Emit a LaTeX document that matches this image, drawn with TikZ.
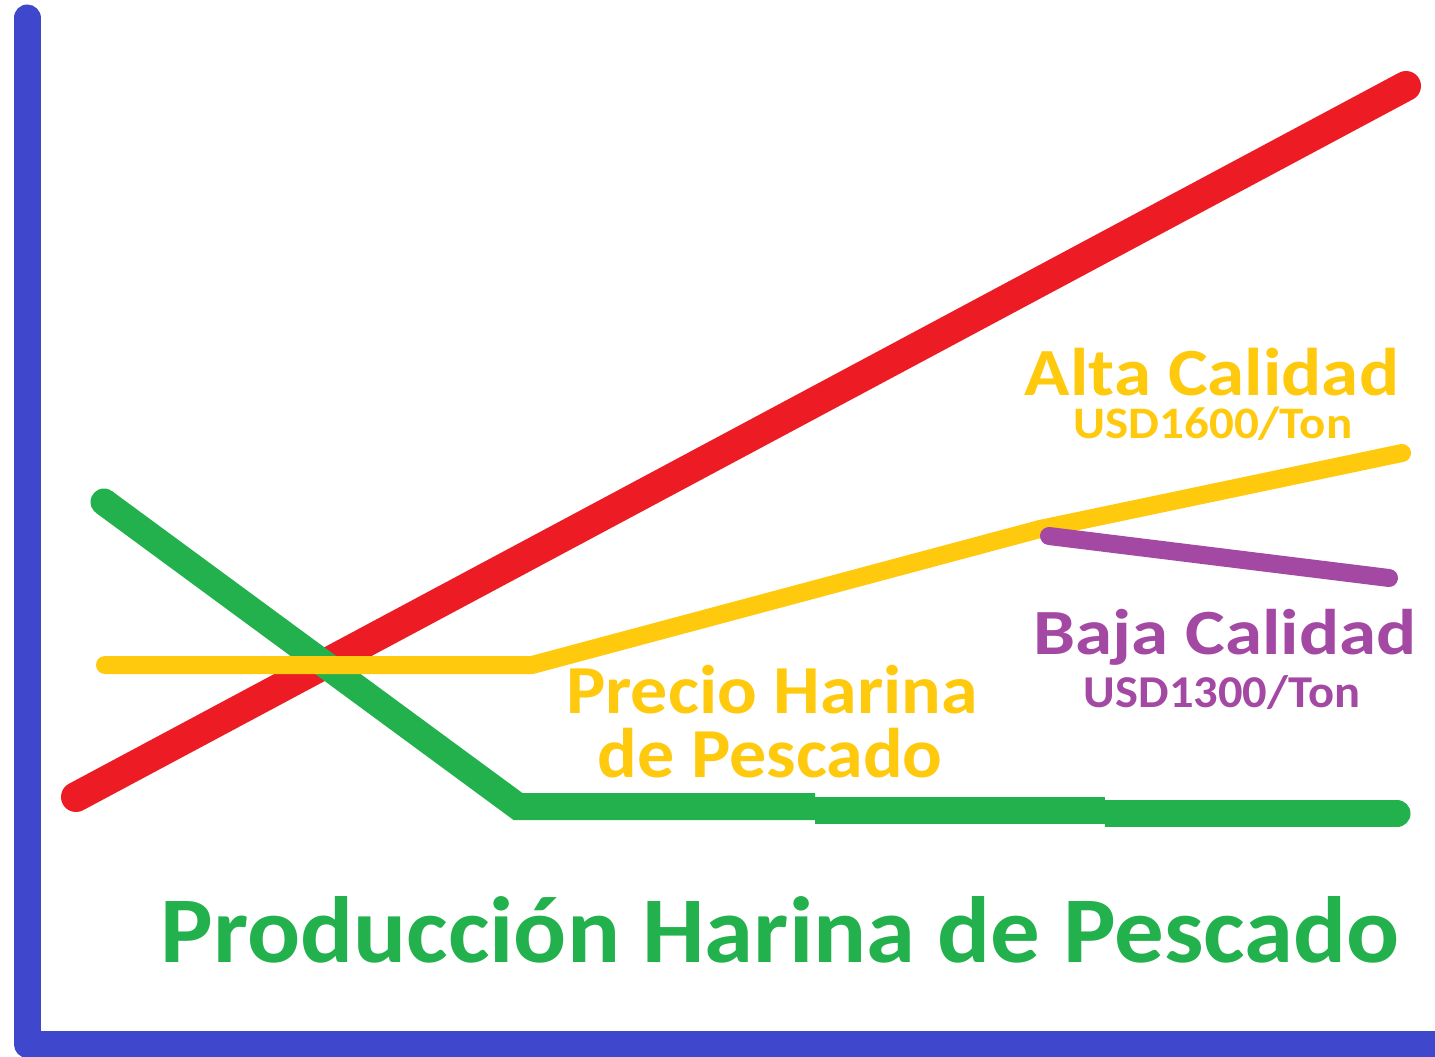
\documentclass[tikz,border=0pt]{standalone}
\usepackage{graphicx}
\usepackage{fontspec}
\setmainfont{Carlito}
\definecolor{axisblue}{HTML}{3F48CC}
\definecolor{pred}{HTML}{ED1C24}
\definecolor{pgreen}{HTML}{22B14C}
\definecolor{pyellow}{HTML}{FFC90E}
\definecolor{ppurple}{HTML}{A349A4}
\newcommand{\fsz}[1]{\bfseries\fontsize{#1}{#1}\selectfont}
\begin{document}
\begin{tikzpicture}[x=1pt,y=-1pt,
  redline/.style={pred,line width=30pt,line cap=round,line join=round},
  greenline/.style={pgreen,line width=27pt,line cap=round,line join=miter},
  thinline/.style={line width=18pt,line cap=round,line join=round},
  lbl/.style={inner sep=0pt,anchor=base}]
\useasboundingbox (0,0) rectangle (1435,1057);
% axes
\coordinate (ytop) at (27,18);
\coordinate (origin) at (27,1044);
\coordinate (xend) at (1445,1044);
\draw[axisblue,line width=27pt,line cap=round,line join=round] (ytop) -- (origin) -- (xend);
% red line
\coordinate (r1) at (76,797);
\coordinate (r2) at (1406,86);
\draw[redline] (r1) -- (r2);
% green line
\coordinate (g1) at (104,502);
\coordinate (g2) at (518,806.5);
\coordinate (g3) at (815,806.5);
\draw[greenline,line cap=butt] (g1) -- (g2) -- (g3);
\fill[pgreen] (g1) circle (13.5);
\fill[pgreen] (815,796.5) rectangle (1105,823.5);
\fill[pgreen] (1105,800) rectangle (1397,827);
\fill[pgreen] (1397,813.5) circle (13.5);
% yellow line
\coordinate (y1) at (105,665);
\coordinate (y2) at (532,665);
\coordinate (y3) at (1040,529);
\coordinate (y4) at (1402,453);
\draw[pyellow,thinline] (y1) -- (y2) -- (y3) -- (y4);
% purple line
\coordinate (p1) at (1049,536);
\coordinate (p2) at (1389,578);
\draw[ppurple,thinline] (p1) -- (p2);
% labels
\node[lbl,pyellow,font=\fsz{75}] (alta) at (1212,395) {\scalebox{1}[0.9]{Alta Calidad}};
\node[lbl,pyellow,font=\fsz{49}] (usd16) at (1213,438) {\scalebox{1}[0.92]{USD1600/Ton}};
\node[lbl,ppurple,font=\fsz{75}] (baja) at (1225,654) {\scalebox{1}[0.86]{Baja Calidad}};
\node[lbl,ppurple,font=\fsz{48.5}] (usd13) at (1222,707) {\scalebox{1}[0.94]{USD1300/Ton}};
\node[lbl,pyellow,font=\fsz{74}] (precio1) at (772,713) {\scalebox{1}[0.93]{Precio Harina}};
\node[lbl,pyellow,font=\fsz{74}] (precio2) at (770,777) {\scalebox{1}[0.95]{de Pescado}};
\node[lbl,pgreen,font=\fsz{99}] (prod) at (780,962) {\scalebox{1}[0.95]{Producción Harina de Pescado}};
\end{tikzpicture}
\end{document}
